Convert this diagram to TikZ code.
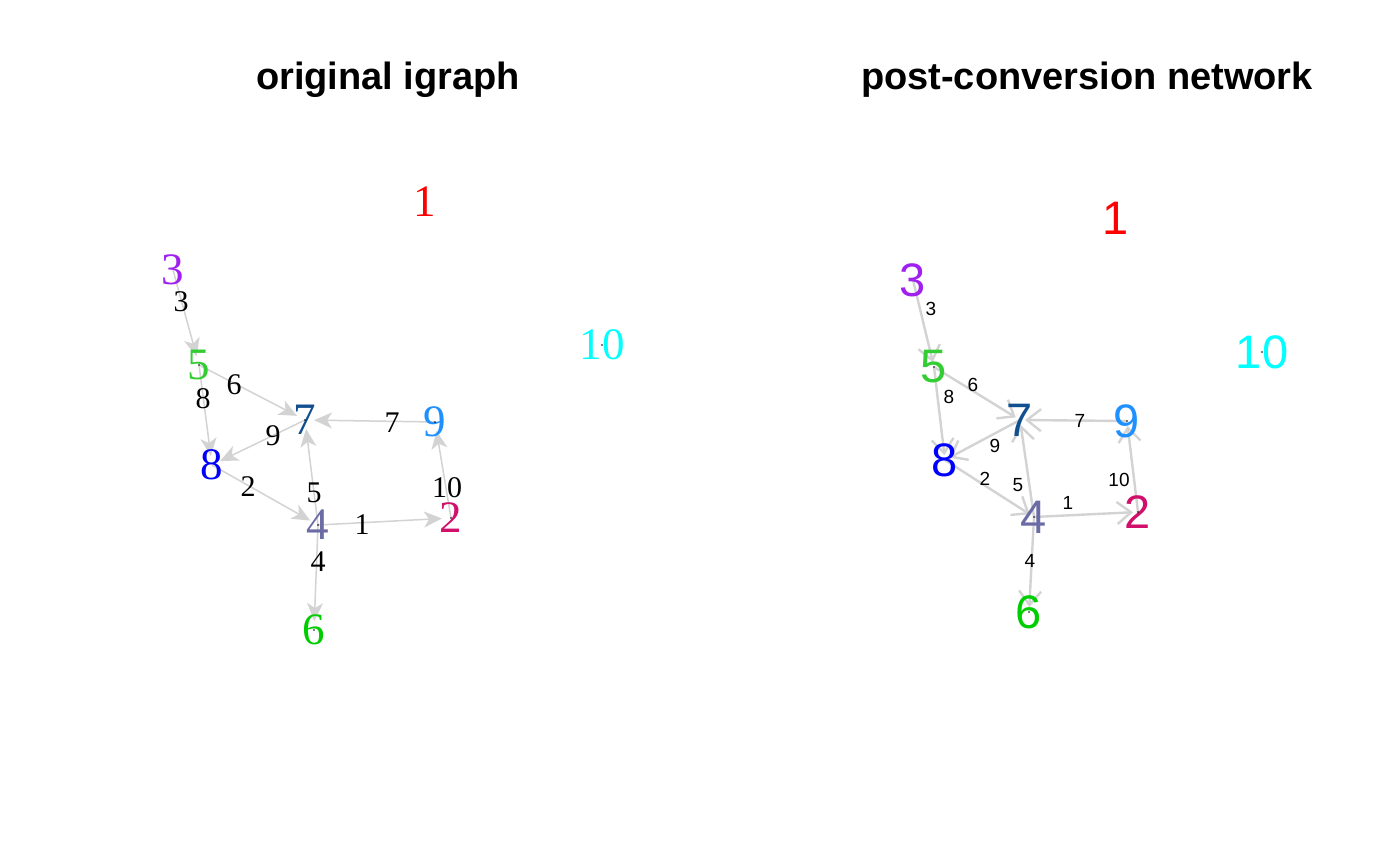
\documentclass[tikz,border=0pt]{standalone}
\usepackage{fontspec}
\setmainfont{Liberation Serif}
\newfontfamily\arialf{Liberation Sans}
\usetikzlibrary{arrows.meta}
\definecolor{edgegray}{HTML}{D3D3D3}
\definecolor{c1}{HTML}{FF0000}
\definecolor{c2}{HTML}{D0106B}
\definecolor{c3}{HTML}{A020F0}
\definecolor{c4}{HTML}{6B6BA6}
\definecolor{c5}{HTML}{32CD32}
\definecolor{c6}{HTML}{00CD00}
\definecolor{c7}{HTML}{10508F}
\definecolor{c8}{HTML}{0000FF}
\definecolor{c9}{HTML}{1E90FF}
\definecolor{c10}{HTML}{00FFFF}
\tikzset{
  vL/.style={inner sep=0pt, font=\fontsize{45}{45}\selectfont},
  elL/.style={inner sep=0pt, font=\fontsize{30}{30}\selectfont},
  vR/.style={inner sep=0pt, font=\arialf\fontsize{47}{47}\selectfont},
  elR/.style={inner sep=0pt, font=\arialf\fontsize{19}{19}\selectfont},
  ttl/.style={inner sep=0pt, font=\arialf\bfseries\fontsize{38}{38}\selectfont},
  edgeL/.style={draw=edgegray, line width=1.5pt, -{Stealth[length=18pt,width=16pt,inset=5pt]}, shorten >=9pt},
  edgeR/.style={draw=edgegray, line width=2.4pt, -{Straight Barb[length=14pt,width=22pt,line width=2.4pt]}, shorten >=5pt},
  vdot/.style={circle, fill=black, inner sep=0pt, minimum size=1.6pt}
}
\begin{document}
\begin{tikzpicture}[x=1pt,y=-1pt]
\useasboundingbox (0,0) rectangle (1400,866);
\node[ttl] (t1) at (388,80) {original igraph};
\node[ttl] (t2) at (1087,80) {post-conversion network};
% left graph coordinates
\coordinate (a1) at (425,202);
\coordinate (a2) at (451,518);
\coordinate (a3) at (173,270);
\coordinate (a4) at (318,525);
\coordinate (a5) at (199,365);
\coordinate (a6) at (314,630);
\coordinate (a7) at (305,420);
\coordinate (a8) at (212,465);
\coordinate (a9) at (435,422);
\coordinate (a10) at (602,345);
% right graph coordinates
\coordinate (b1) at (1116,218);
\coordinate (b2) at (1138,512);
\coordinate (b3) at (913,280);
\coordinate (b4) at (1034,517);
\coordinate (b5) at (934,367);
\coordinate (b6) at (1029,612);
\coordinate (b7) at (1020,420);
\coordinate (b8) at (945,460);
\coordinate (b9) at (1127,421);
\coordinate (b10) at (1262,352);
% left edges
\draw[edgeL] (a4) -- (a2);
\draw[edgeL] (a8) -- (a4);
\draw[edgeL] (a3) -- (a5);
\draw[edgeL] (a4) -- (a6);
\draw[edgeL] (a4) -- (a7);
\draw[edgeL] (a5) -- (a7);
\draw[edgeL] (a9) -- (a7);
\draw[edgeL] (a5) -- (a8);
\draw[edgeL] (a7) -- (a8);
\draw[edgeL] (a2) -- (a9);
% right edges
\draw[edgeR] (b4) -- (b2);
\draw[edgeR] (b8) -- (b4);
\draw[edgeR] (b3) -- (b5);
\draw[edgeR] (b4) -- (b6);
\draw[edgeR] (b4) -- (b7);
\draw[edgeR] (b5) -- (b7);
\draw[edgeR] (b9) -- (b7);
\draw[edgeR] (b5) -- (b8);
\draw[edgeR] (b7) -- (b8);
\draw[edgeR] (b2) -- (b9);
% left edge labels
\node[elL] (la1) at (362,525) {1};
\node[elL] (la2) at (248,487) {2};
\node[elL] (la3) at (181,302) {3};
\node[elL] (la4) at (318,562) {4};
\node[elL] (la5) at (314,493) {5};
\node[elL] (la6) at (234,385) {6};
\node[elL] (la7) at (392,423) {7};
\node[elL] (la8) at (203,399) {8};
\node[elL] (la9) at (273,436) {9};
\node[elL] (la10) at (447,488) {10};
% right edge labels
\node[elR] (lb1) at (1068,503) {1};
\node[elR] (lb2) at (985,479) {2};
\node[elR] (lb3) at (931,309) {3};
\node[elR] (lb4) at (1030,561) {4};
\node[elR] (lb5) at (1018,485) {5};
\node[elR] (lb6) at (973,385) {6};
\node[elR] (lb7) at (1080,421) {7};
\node[elR] (lb8) at (949,397) {8};
\node[elR] (lb9) at (995,446) {9};
\node[elR] (lb10) at (1119,480) {10};
% left vertex labels
\node[vL, text=c1] (na1) at (a1) {1};
\node[vL, text=c2] (na2) at (a2) {2};
\node[vL, text=c3] (na3) at (a3) {3};
\node[vL, text=c4] (na4) at (a4) {4};
\node[vL, text=c5] (na5) at (a5) {5};
\node[vL, text=c6] (na6) at (a6) {6};
\node[vL, text=c7] (na7) at (a7) {7};
\node[vL, text=c8] (na8) at (a8) {8};
\node[vL, text=c9] (na9) at (a9) {9};
\node[vL, text=c10] (na10) at (a10) {10};
% right vertex labels
\node[vR, text=c1] (nb1) at (b1) {1};
\node[vR, text=c2] (nb2) at (b2) {2};
\node[vR, text=c3] (nb3) at (b3) {3};
\node[vR, text=c4] (nb4) at (b4) {4};
\node[vR, text=c5] (nb5) at (b5) {5};
\node[vR, text=c6] (nb6) at (b6) {6};
\node[vR, text=c7] (nb7) at (b7) {7};
\node[vR, text=c8] (nb8) at (b8) {8};
\node[vR, text=c9] (nb9) at (b9) {9};
\node[vR, text=c10] (nb10) at (b10) {10};
% tiny vertex dots
\foreach \p in {a2,a4,a5,a6,a7,a9,a10,b2,b4,b5,b6,b9,b10}
  \node[vdot] at (\p) {};
\end{tikzpicture}
\end{document}
